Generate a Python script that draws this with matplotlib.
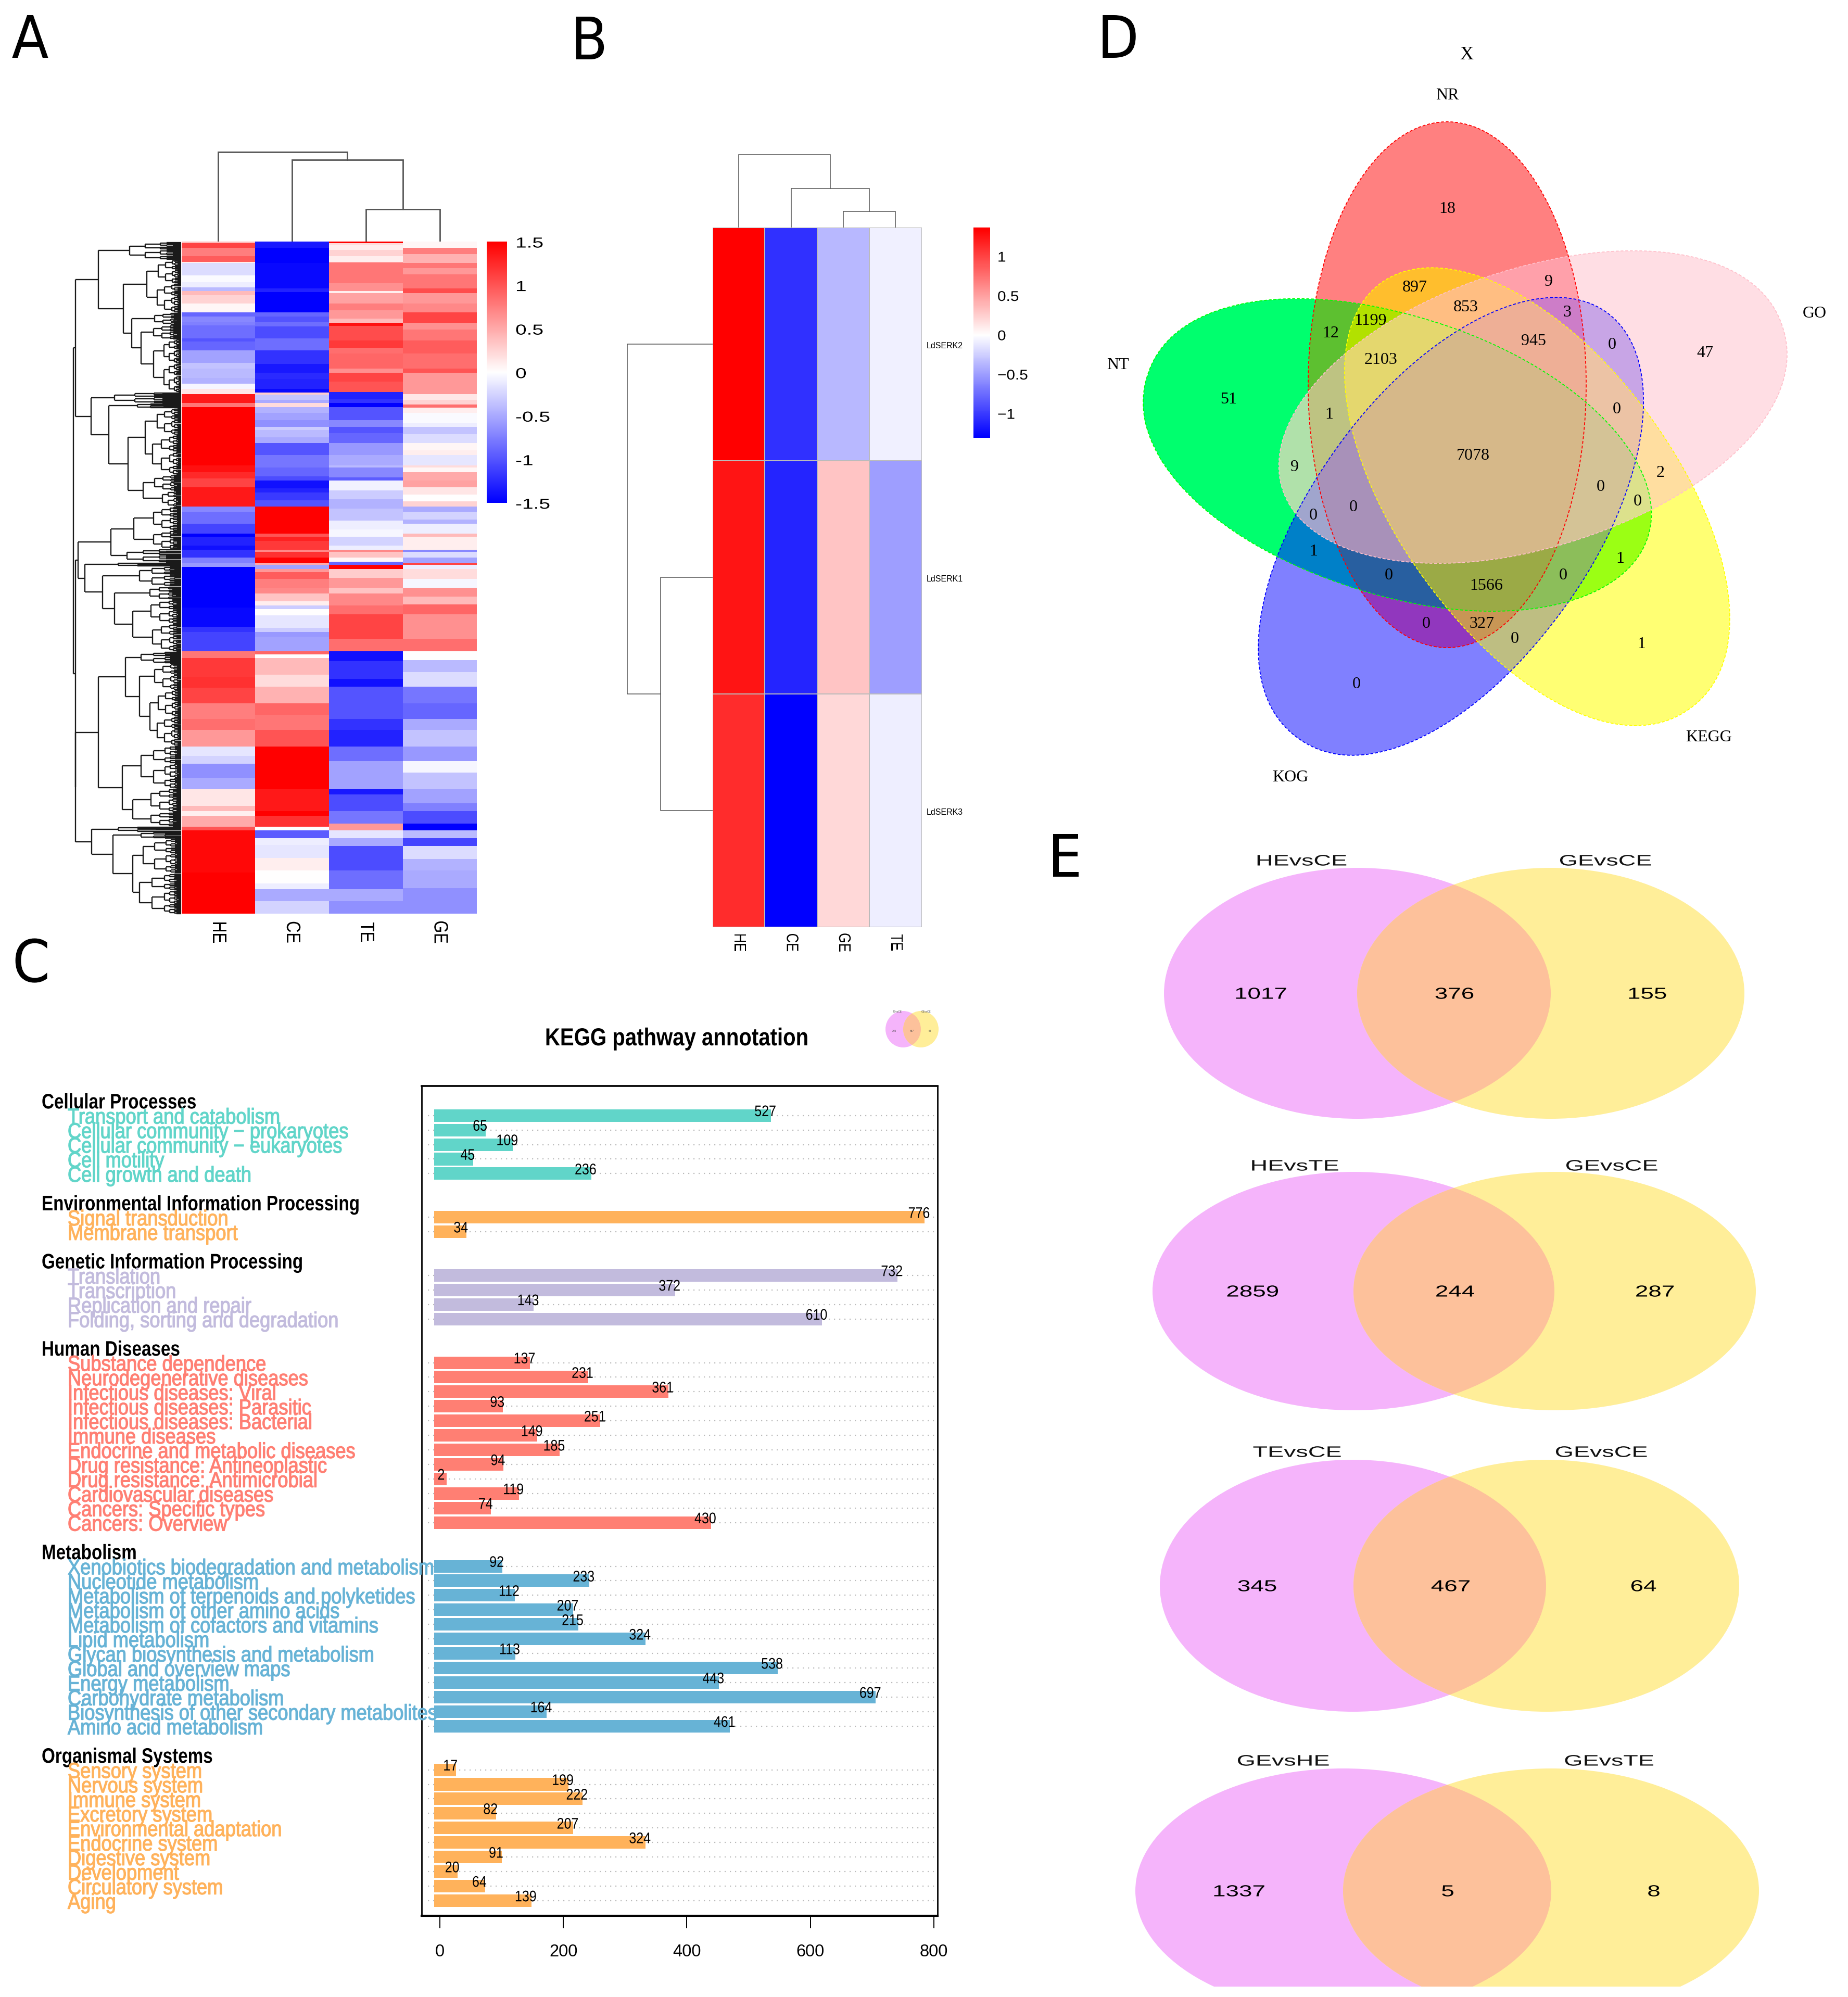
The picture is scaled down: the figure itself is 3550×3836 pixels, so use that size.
import numpy as np
import matplotlib
matplotlib.use('Agg')
import matplotlib.pyplot as plt
from matplotlib.patches import Ellipse, Rectangle, Polygon
from matplotlib.collections import LineCollection
from matplotlib.colors import LinearSegmentedColormap, TwoSlopeNorm
from matplotlib.patheffects import AbstractPathEffect
from matplotlib.transforms import Affine2D, blended_transform_factory

# ---------------- DATA ----------------
# Panel A: heat map, per column (zoom-read row end, z-score)
A_columns = ['HE', 'CE', 'TE', 'GE']
A_he_top = [(20,.4),(42,1.1),(80,.75),(105,.95),(112,.1),(170,-.2),(200,-.03),(225,-.1),(240,-.4),(260,.4),(300,.25),(340,.05),(360,-.9),(385,-.7),(400,-.75),(460,-.85),(475,-1.0),(515,-.9),(575,-.55),(600,-.35),(645,-.4),(670,-.45),(695,-.05),(718,.15),(760,1.35),(780,.8),(1050,1.5),(1080,1.4),(1110,1.25),(1150,1.1),(1240,1.35),(1265,-.7),(1320,-.85),(1365,-1.1),(1380,-1.5),(1420,-1.3),(1440,-1.4),(1475,-1.2),(1500,-.75),(1520,-.6),(1544,-1.5)]
A_ce_top = [(40,-1.35),(110,-1.5),(230,-1.45),(245,-1.3),(340,-1.5),(360,-.9),(385,-1.0),(405,-.85),(460,-1.05),(515,-.85),(580,-1.2),(620,-1.35),(650,-1.25),(695,-1.3),(712,-1.45),(722,.3),(745,-.35),(760,-.5),(778,.2),(805,-.45),(840,-.55),(870,-.65),(885,-.3),(920,-.4),(945,-.5),(1000,-1.0),(1060,-.8),(1100,-.9),(1120,-1.05),(1155,-1.4),(1175,-1.3),(1210,-1.15),(1240,-1.0),(1365,1.5),(1380,1.0),(1400,1.3),(1440,1.15),(1450,.7),(1475,1.2),(1500,1.5),(1510,.5),(1530,-.55),(1544,.6)]
A_te_top = [(20,1.5),(30,.2),(50,.1),(80,.25),(108,.1),(205,.8),(240,.65),(250,.1),(300,.55),(330,.75),(370,.6),(388,.4),(403,1.4),(470,1.05),(505,1.15),(530,.85),(600,.9),(620,.65),(660,1.1),(710,1.0),(740,-1.3),(760,-1.2),(778,-1.5),(840,-1.0),(870,-.7),(900,-1.0),(945,-.9),(1000,-.6),(1050,-.5),(1060,-.4),(1105,-.7),(1120,-.95),(1165,-.08),(1205,-.3),(1250,-.45),(1305,-.35),(1345,-.1),(1380,-.05),(1420,-.25),(1440,-.1),(1450,.7),(1475,.35),(1495,.05),(1510,-.9),(1530,1.5),(1544,.3)]
A_ge_top = [(40,.05),(70,.75),(110,.45),(135,.8),(165,.6),(228,.8),(250,1.05),(300,.6),(340,.7),(388,1.1),(420,.65),(470,.8),(530,.95),(600,.85),(620,1.0),(718,.6),(745,.15),(768,.25),(782,.85),(805,.1),(855,-.03),(870,-.1),(905,-.35),(945,-.2),(980,.05),(1000,.1),(1050,-.15),(1060,.2),(1080,.05),(1120,.5),(1150,.55),(1185,.15),(1215,.0),(1240,.25),(1265,-.5),(1300,-.25),(1320,-.45),(1365,-.1),(1380,.4),(1440,.1),(1450,-.7),(1475,-.2),(1500,-.55),(1510,1.1),(1530,-.1),(1544,.2)]
A_he_bot = [(160,-1.5),(245,-1.45),(270,-1.2),(355,-1.1),(385,.8),(470,1.15),(520,1.2),(590,1.1),(660,.75),(710,.85),(785,.6),(825,-.15),(860,-.25),(925,-.65),(975,-.5),(1050,.15),(1075,.4),(1095,.1),(1145,.5),(1160,1.0),(1350,1.45),(1535,1.5)]
A_ce_bot = [(30,.95),(70,.75),(95,.7),(130,.35),(150,.1),(165,-.3),(195,0),(250,-.15),(270,-.3),(290,-.6),(355,-.55),(370,.9),(385,0),(460,.4),(515,.2),(590,.45),(640,.9),(710,.8),(785,1.0),(975,1.5),(1075,1.35),(1095,1.5),(1145,1.2),(1160,.0),(1195,-.95),(1225,-.1),(1285,-.15),(1340,.1),(1400,.0),(1425,-.1),(1480,-.5),(1535,-.25)]
A_te_bot = [(25,.3),(70,.6),(95,.35),(150,.7),(190,.85),(300,1.1),(355,.85),(400,-1.4),(480,-1.2),(515,-1.4),(590,-1.0),(660,-1.0),(710,-1.2),(785,-1.3),(850,-.85),(975,-.55),(1000,-1.35),(1075,-1.05),(1130,-.8),(1160,.6),(1195,-.15),(1230,-.5),(1340,-1.05),(1425,-.85),(1480,-.5),(1535,-.65)]
A_ge_bot = [(30,.2),(70,-.05),(110,.65),(145,.4),(190,.9),(300,.65),(355,.85),(395,.0),(450,-.4),(515,-.2),(590,-.8),(660,-.9),(710,-.5),(785,-.35),(850,-.6),(900,-.05),(975,-.35),(1040,-.55),(1075,-.75),(1130,-1.05),(1160,-1.5),(1195,-.4),(1230,-1.1),(1290,-.2),(1340,-.45),(1420,-.5),(1535,-.65)]
A_cbar_ticks = ['1.5', '1', '0.5', '0', '-0.5', '-1', '-1.5']
A_col_merges = [62, 157, 172]

# Panel B
B_columns = ['HE', 'CE', 'GE', 'TE']
B_rows = ['LdSERK2', 'LdSERK1', 'LdSERK3']
B_he = [1.37, 1.26, 1.13]
B_ce = [-1.055, -1.117, -1.30]
B_ge = [-.357, .317, .21]
B_te = [-.078, -.494, -.091]
B_cbar_ticks = [1, .5, 0, -.5, -1]
B_cbar_texts = ['1', '0.5', '0', '\u22120.5', '\u22121']
B_col_merges = [31, 75, 140]
B_row_merges = [100, 164]

# Panel C
cellular_terms = ['Transport and catabolism','Cellular community \u2212 prokaryotes','Cellular community \u2212 eukaryotes','Cell motility','Cell growth and death']
cellular_counts = [527, 65, 109, 45, 236]
environmental_terms = ['Signal transduction','Membrane transport']
environmental_counts = [776, 34]
genetic_terms = ['Translation','Transcription','Replication and repair','Folding, sorting and degradation']
genetic_counts = [732, 372, 143, 610]
human_terms = ['Substance dependence','Neurodegenerative diseases','Infectious diseases: Viral','Infectious diseases: Parasitic','Infectious diseases: Bacterial','Immune diseases','Endocrine and metabolic diseases','Drug resistance: Antineoplastic','Drug resistance: Antimicrobial','Cardiovascular diseases','Cancers: Specific types','Cancers: Overview']
human_counts = [137, 231, 361, 93, 251, 149, 185, 94, 2, 119, 74, 430]
metabolism_terms = ['Xenobiotics biodegradation and metabolism','Nucleotide metabolism','Metabolism of terpenoids and polyketides','Metabolism of other amino acids','Metabolism of cofactors and vitamins','Lipid metabolism','Glycan biosynthesis and metabolism','Global and overview maps','Energy metabolism','Carbohydrate metabolism','Biosynthesis of other secondary metabolites','Amino acid metabolism']
metabolism_counts = [92, 233, 112, 207, 215, 324, 113, 538, 443, 697, 164, 461]
organismal_terms = ['Sensory system','Nervous system','Immune system','Excretory system','Environmental adaptation','Endocrine system','Digestive system','Development','Circulatory system','Aging']
organismal_counts = [17, 199, 222, 82, 207, 324, 91, 20, 64, 139]
group_names = ['Cellular Processes','Environmental Information Processing','Genetic Information Processing','Human Diseases','Metabolism','Organismal Systems']
group_terms = [cellular_terms, environmental_terms, genetic_terms, human_terms, metabolism_terms, organismal_terms]
group_counts = [cellular_counts, environmental_counts, genetic_counts, human_counts, metabolism_counts, organismal_counts]
x_ticks = [0, 200, 400, 600, 800]

# Panel D: 5-set venn
D_sets = ['NR', 'GO', 'KEGG', 'KOG', 'NT']
D_regions = ['T','N','G','E','K','TN','TE','TK','NG','NE','NK','GE','GK','GT','EK','NET','NGE','NGK','NGT','NKT','NEK','GET','GKT','GEK','EKT','NGET','NGEK','NGKT','NEKT','GEKT','NGEKT']
D_counts = [51,18,47,1,0,12,1,1,9,897,0,2,0,9,0,1199,853,3,1,0,327,0,0,0,0,2103,945,0,1566,0,7078]

# Panel E: 2-set venns
E_left = ['HEvsCE', 'HEvsTE', 'TEvsCE', 'GEvsHE']
E_right = ['GEvsCE', 'GEvsCE', 'GEvsCE', 'GEvsTE']
E_only_left = [1017, 2859, 345, 1337]
E_both = [376, 244, 467, 5]
E_only_right = [155, 287, 64, 8]

# ---------------- STYLE / LAYOUT ----------------
W, H = 3550, 3837
plt.rcParams['font.family'] = ['Liberation Sans', 'DejaVu Sans']
fig = plt.figure(figsize=(W/100, H/100), dpi=100, facecolor='white')
def px_axes(x0, y0, x1, y1, **kw):
    return fig.add_axes([x0/W, 1-y1/H, (x1-x0)/W, (y1-y0)/H], **kw)

class Stretch(AbstractPathEffect):
    def __init__(self, txt, sx=1.0, sy=1.0, stroke=0.0):
        super().__init__()
        self.txt, self.sx, self.sy, self.stroke = txt, sx, sy, stroke
    def draw_path(self, renderer, gc, tpath, affine, rgbFace=None):
        ax_, ay_ = self.txt.get_transform().transform(self.txt.get_position())
        aff = affine + Affine2D().translate(-ax_, -ay_).scale(self.sx, self.sy).translate(ax_, ay_)
        if self.stroke > 0:
            gc0 = renderer.new_gc()
            gc0.copy_properties(gc)
            gc0.set_linewidth(self.stroke)
            gc0.set_foreground(rgbFace)
            renderer.draw_path(gc0, tpath, aff, rgbFace)
            gc0.restore()
        else:
            renderer.draw_path(gc, tpath, aff, rgbFace)

def T(ax, x, y, s, size, sx=1.0, sy=1.0, stroke=0.0, ha='center', va='center', **kw):
    if ax is ov and va == 'center':
        y = y+2.5
    t = ax.text(x, y, s, fontsize=size, ha=ha, va=va, clip_on=False, **kw)
    if sx != 1.0 or sy != 1.0 or stroke > 0:
        t.set_path_effects([Stretch(t, sx, sy, stroke)])
    return t

ov = px_axes(0, 0, W, H)
ov.set_xlim(0, W); ov.set_ylim(H, 0); ov.axis('off')

hm = LinearSegmentedColormap.from_list('bwr2', ['#0000FF', '#FFFFFF', '#FF0000'], N=256)

# ---------------- Panel letters ----------------
for s, x, y in [('A', 58, 112), ('B', 1132, 115), ('C', 60, 1887), ('D', 2148, 112), ('E', 2046, 1685)]:
    T(ov, x, y, s, 81, sx=.92, va='baseline', family='DejaVu Sans')

# ---------------- Panel A ----------------
def col_rows(top, bot):
    rows = np.zeros(1291)
    start = 0
    for end, v in top:
        r = int(round(end/2.412 - 5)); rows[start:r] = v; start = r
    for end, v in bot:
        r = int(round(635 + end/2.34)); r = min(r, 1291)
        if r > start:
            rows[start:r] = v; start = r
    rows[start:] = v
    return rows
A_data = np.column_stack([col_rows(A_he_top, A_he_bot), col_rows(A_ce_top, A_ce_bot),
                          col_rows(A_te_top, A_te_bot), col_rows(A_ge_top, A_ge_bot)])
ax_a = px_axes(348.5, 465, 915.5, 1756)
ax_a.imshow(A_data, cmap=hm, vmin=-1.5, vmax=1.5, aspect='auto', interpolation='nearest')
ax_a.axis('off')
col_w = (915.5-348.5)/4
for i, c in enumerate(A_columns):
    T(ov, 348.5+col_w*(i+.5), 1789, c, 27, sy=.82, rotation=-90)
ax_cb = px_axes(935, 465, 974, 967)
ax_cb.imshow(np.linspace(1.5, -1.5, 256)[:, None], cmap=hm, vmin=-1.5, vmax=1.5, aspect='auto')
ax_cb.axis('off')
for i, s in enumerate(A_cbar_ticks):
    T(ov, 990, 467+i*83.6, s, 20, sx=1.4, ha='left')

# dendrogram helpers, in zoom coordinates of panel A
LEAF_X = 475
def N(x, a, b): return ('N', x, a, b)
def F(x, y0, y1, d=0):
    if y1-y0 < 2.6:
        return ('L', (y0+y1)/2)
    f = [.42, .58][d % 2]
    ym = y0+(y1-y0)*f
    xn = x+(LEAF_X-x)*[.3, .42][d % 2]
    return N(x, F(xn, y0, ym, d+1), F(xn, ym, y1, d+1))
def walk(n, segs):
    if n[0] == 'L':
        return LEAF_X, n[1]
    _, x, a, b = n
    xa, ya = walk(a, segs); xb, yb = walk(b, segs)
    segs += [[(x, ya), (x, yb)], [(x, ya), (xa, ya)], [(x, yb), (xb, yb)]]
    return x, (ya+yb)/2

TOP = N(258, F(340,212,245), N(323, N(385,F(415,245,290),F(412,290,345)),
        N(345, F(405,345,368), N(370, F(402,368,395), N(402,F(430,395,440),F(430,440,495))))))
SECOND = N(238, F(300,495,515), N(285, F(360,515,525), N(335, N(380,F(412,525,575),F(400,575,650)),
        N(375,F(405,650,680),F(425,680,710)))))
G3 = N(290, N(350, F(402,710,755), F(402,755,790)), F(332,790,815))
G4 = N(222, F(310,815,822), N(268, F(365,822,860), N(300, F(392,860,885), N(348,F(395,885,930),F(400,930,983)))))
B1 = N(328, F(370,983,1005), N(365, F(405,1005,1055), N(392,F(415,1055,1105),F(412,1105,1160))))
B2 = N(320, F(370,1160,1240), N(348, F(395,1240,1285), F(395,1285,1312)))
B3 = N(240, F(310,1312,1322), N(296, F(370,1322,1335), N(348, F(375,1335,1400), F(365,1400,1476))))
ROOT = N(192, N(198, TOP, SECOND), N(197, N(205, G3, G4), N(198, N(258, B1, B2), B3)))
segs = []
walk(ROOT, segs)
segs_px = [[(x/1.363, y/.98+250) for x, y in s] for s in segs]
ov.add_collection(LineCollection(segs_px, colors='#1a1a1a', linewidths=1.7))

def top_dendro(col_x, base, merges, order, color, lw):
    i0, i1, i2, i3 = order
    x_a, x_b = col_x[i2], col_x[i3]
    mid = (x_a+x_b)/2
    h0 = base-merges[0]
    ov.plot([x_a, x_a, x_b, x_b], [base, h0, h0, base], color=color, lw=lw, solid_joinstyle='miter')
    x_c = col_x[i1]; h1 = base-merges[1]
    ov.plot([x_c, x_c, mid, mid], [base, h1, h1, h0], color=color, lw=lw, solid_joinstyle='miter')
    mid2 = (x_c+mid)/2
    x_d = col_x[i0]; h2 = base-merges[2]
    ov.plot([x_d, x_d, mid2, mid2], [base, h2, h2, h1], color=color, lw=lw, solid_joinstyle='miter')
a_cols = [348.5+col_w*(i+.5) for i in range(4)]
top_dendro(a_cols, 465, A_col_merges, (0, 1, 2, 3), '#555555', 2)

# ---------------- Panel B ----------------
B_x0, B_x1, B_y0, B_y1 = 1369, 1770.6, 438, 1782
ax_b = px_axes(B_x0, B_y0, B_x1, B_y1)
B_data = np.column_stack([B_he, B_ce, B_ge, B_te])
b_norm = TwoSlopeNorm(vmin=-1.30, vcenter=0, vmax=1.37)
ax_b.pcolormesh(B_data, cmap=hm, norm=b_norm, edgecolors='#BBBBBB', linewidth=1.2)
ax_b.invert_yaxis(); ax_b.axis('off')
bw = (B_x1-B_x0)/4; bh = (B_y1-B_y0)/3
b_cols = [B_x0+bw*(i+.5) for i in range(4)]
b_rows = [B_y0+bh*(i+.5) for i in range(3)]
for x, c in zip(b_cols, B_columns):
    T(ov, x, 1809, c, 23, sy=.8, rotation=-90)
for y, r in zip(b_rows, B_rows):
    T(ov, 1780, y, r, 11.5, ha='left')
ax_cbb = px_axes(1870, 438, 1902, 842)
ax_cbb.imshow(np.linspace(1.37, -1.30, 256)[:, None], cmap=hm, norm=b_norm, aspect='auto')
ax_cbb.axis('off')
for v, s in zip(B_cbar_ticks, B_cbar_texts):
    T(ov, 1916, 645-v*151, s, 19.5, sx=1.1, ha='left')
top_dendro(b_cols, B_y0, B_col_merges, (0, 1, 2, 3), '#555555', 1.1)
x_in = B_x0-B_row_merges[0]; x_out = B_x0-B_row_merges[1]
ym = (b_rows[1]+b_rows[2])/2
ov.plot([B_x0, x_in, x_in, B_x0], [b_rows[1], b_rows[1], b_rows[2], b_rows[2]], color='#555555', lw=1.1)
ov.plot([x_in, x_out, x_out, B_x0], [ym, ym, b_rows[0], b_rows[0]], color='#555555', lw=1.1)

# ---------------- Panel C ----------------
ax_c = px_axes(810, 2087, 1801, 3681)
ax_c.patch.set_alpha(0)
ax_c.set_xlim(-29.5, 806)
ax_c.set_ylim(55.04, -2.03)
colors = ['#61D5C9', '#FFB25B', '#C2BBDD', '#FF7F73', '#67B3D6', '#FFB25B']
lbl_tr = blended_transform_factory(ov.transData, ax_c.transData)
row = 0
for name, terms, counts, col in zip(group_names, group_terms, group_counts, colors):
    T(ax_c, 80, row-1+.52, name, 26, sx=.92, sy=1.12, ha='left', va='baseline', transform=lbl_tr, weight='bold', color='black', zorder=6)
    for term, cnt in zip(terms, counts):
        ax_c.hlines(row, -19, 806, color='#BBBBBB', lw=1.6, linestyles=[(0, (1, 3.5))], zorder=1)
        ax_c.barh(row, cnt+18, left=-9, height=.86, color=col, zorder=2)
        T(ax_c, 130, row+.56, term, 25, sx=1.045, sy=1.2, stroke=.9, ha='left', va='baseline', transform=lbl_tr, color=col, zorder=6)
        T(ax_c, cnt, row-.25, str(cnt), 18, sy=1.18, color='black', zorder=5)
        row += 1
    row += 2
for s in ax_c.spines.values():
    s.set_linewidth(2)
ax_c.spines['top'].set_linewidth(2.6); ax_c.spines['bottom'].set_linewidth(3)
ax_c.set_yticks([])
ax_c.set_xticks(x_ticks)
ax_c.tick_params(axis='x', length=17, width=1.4, labelsize=23.5, pad=21)
T(ov, 1300, 2009, 'KEGG pathway annotation', 34, sx=.85, va='baseline', weight='bold')
ov.set_zorder(0); ax_c.set_zorder(3)

# ---------------- Panel D ----------------
def z3(x, y): return x/1.081+2100, y/1.045+50
D_centers = {'N': (2780, 740), 'G': (2944, 785), 'E': (2950, 953), 'K': (2790, 1010), 'T': (2685, 877)}
D_angles = {'N': 0, 'G': 72, 'E': 144, 'K': 216, 'T': 288}
D_power = {'N': 2.0, 'G': 2.1, 'E': 2.1, 'K': 2.1, 'T': 2.1}
D_edge = {'N': '#FF0000', 'G': '#FFC0CB', 'E': '#FFFF00', 'K': '#0000FF', 'T': '#00FF00'}
D_fill = {'T':(0,255,110),'N':(255,128,128),'G':(255,222,228),'E':(255,255,115),'K':(128,128,255),
 'TN':(93,192,48),'TE':(155,255,20),'TK':(0,128,200),'NG':(255,160,170),'NE':(255,190,45),'NK':(145,55,190),
 'GE':(255,222,160),'GK':(200,165,230),'GT':(176,225,170),'EK':(190,190,130),
 'NET':(178,225,0),'NGE':(255,190,130),'NGK':(205,125,200),'NGT':(190,195,130),'NKT':(40,95,160),'NEK':(200,150,85),
 'GET':(220,225,140),'GKT':(160,165,205),'GEK':(236,195,165),'EKT':(140,190,90),
 'NGET':(228,215,110),'NGEK':(238,175,150),'NGKT':(168,145,185),'NEKT':(155,170,70),'GEKT':(212,195,150),'NGEKT':(214,184,137)}
D_pos = [(281,747),(735,365),(1271,654),(1138,1238),(547,1319),(493,614),(1094,1067),(457,1052),(946,511),(668,522),(692,1198),(1178,895),(1078,637),(418,883),(875,1228),(576,589),(774,562),(984,573),(490,777),(614,1100),(807,1198),(1130,952),(457,980),(1087,767),(976,1100),(597,668),(915,630),(540,963),(816,1121),(1054,923),(789,860)]
D_label_pos = {'NR': (735,137), 'GO': (1498,575), 'KEGG': (1278,1425), 'KOG': (409,1506), 'NT': (51,678)}
D_a, D_b = 505, 267
xx, yy = np.meshgrid(np.arange(2150, 3500)+.5, np.arange(200, 1500)+.5)
code = np.zeros(xx.shape, dtype=int)
keys = 'NGEKT'
def petal_outline(k):
    t = np.linspace(0, 2*np.pi, 721)
    cs, sn = np.cos(t), np.sin(t)
    outer = sn < 0
    p = np.where(outer, D_power[k], 2.0)
    u = D_b*np.sign(cs)*np.abs(cs)**(2/p)
    v = D_a*np.sign(sn)*np.abs(sn)**(2/p)
    th = np.deg2rad(D_angles[k]); cx, cy = D_centers[k]
    return np.column_stack([cx+u*np.cos(th)-v*np.sin(th), cy+u*np.sin(th)+v*np.cos(th)])
for i, k in enumerate(keys):
    cx, cy = D_centers[k]; th = np.deg2rad(D_angles[k])
    dx, dy = xx-cx, yy-cy
    u = dx*np.cos(th)+dy*np.sin(th); v = -dx*np.sin(th)+dy*np.cos(th)
    p = np.where(v < 0, D_power[k], 2.0)
    code |= ((np.abs(u)/D_b)**p+(np.abs(v)/D_a)**p <= 1).astype(int) << i
rgba = np.zeros(xx.shape+(4,), dtype=np.uint8)
for reg, c in D_fill.items():
    m = sum(1 << keys.index(ch) for ch in reg)
    rgba[code == m] = c+(255,)
ov.imshow(rgba, extent=(2150, 3500, 1500, 200), interpolation='nearest', aspect='auto', zorder=1)
ov.set_xlim(0, W); ov.set_ylim(H, 0)
for k in keys:
    ov.add_patch(Polygon(petal_outline(k), closed=True, fill=False, ec=D_edge[k],
                         lw=1.3, ls=(0, (3, 2)), zorder=2))
for c, (x, y) in zip(D_counts, D_pos):
    X, Y = z3(x, y)
    T(ov, X, Y, str(c), 23, family='Liberation Serif', zorder=3)
for name in D_sets:
    X, Y = z3(*D_label_pos[name])
    T(ov, X, Y, name, 23, family='Liberation Serif', zorder=3)
X, Y = z3(775, 55)
T(ov, X, Y, 'X', 26, family='Liberation Serif', zorder=3)

# ---------------- Panel E ----------------
LCOL, RCOL, MCOL = '#F5B4FB', '#FFEE99', '#FDC19B'
def venn2(lx0, lx1, rx0, rx1, cy, hh):
    lc = ((lx0+lx1)/2, cy); rc = ((rx0+rx1)/2, cy)
    L = Ellipse(lc, lx1-lx0, 2*hh, fc=LCOL, ec='none', zorder=1)
    R = Ellipse(rc, rx1-rx0, 2*hh, fc=RCOL, ec='none', zorder=1.1)
    M = Ellipse(rc, rx1-rx0, 2*hh, fc=MCOL, ec='none', zorder=1.2)
    ov.add_patch(L); ov.add_patch(R); ov.add_patch(M)
    M.set_clip_path(L)
E_geom = [(2236, 2979, 2607, 3351, 1909, 241), (2214, 2986, 2600, 3373, 2481, 229),
          (2228, 2970, 2600, 3341, 3047, 242), (2181, 2980, 2580, 3379, 3633, 235)]
E_lab = [(1653, 2500, 3084), (2239, 2487, 3096), (2789, 2492, 3076), (3382, 2465, 3091)]
E_num = [(2422, 2794, 3164), (2406, 2795, 3179), (2415, 2787, 3157), (2380, 2781, 3177)]
for i in range(4):
    g = E_geom[i]
    venn2(*g)
    ly, lx, rx = E_lab[i]
    T(ov, lx, ly, E_left[i], 21, sx=1.6, zorder=3, color='#111111')
    T(ov, rx, ly, E_right[i], 21, sx=1.6, zorder=3, color='#111111')
    nx = E_num[i]
    for x, val in zip(nx, (E_only_left[i], E_both[i], E_only_right[i])):
        T(ov, x, g[4], str(val), 22, sx=1.5, zorder=3)
ov.add_patch(Rectangle((2100, 3817), 1450, 20, fc='white', ec='none', zorder=2))

# small venn inside panel C heading
venn2(1701, 1769, 1735, 1803, 1978, 35)
for x, y, s in [(1724, 1941, E_left[2]), (1779, 1941, E_right[2]), (1718, 1978, str(E_only_left[2])),
                (1752, 1978, str(E_both[2])), (1786, 1978, str(E_only_right[2]))]:
    T(ov, x, y, s, 3.5, color='#444444', zorder=3)

fig.savefig('out.png', dpi=100, facecolor='white')
